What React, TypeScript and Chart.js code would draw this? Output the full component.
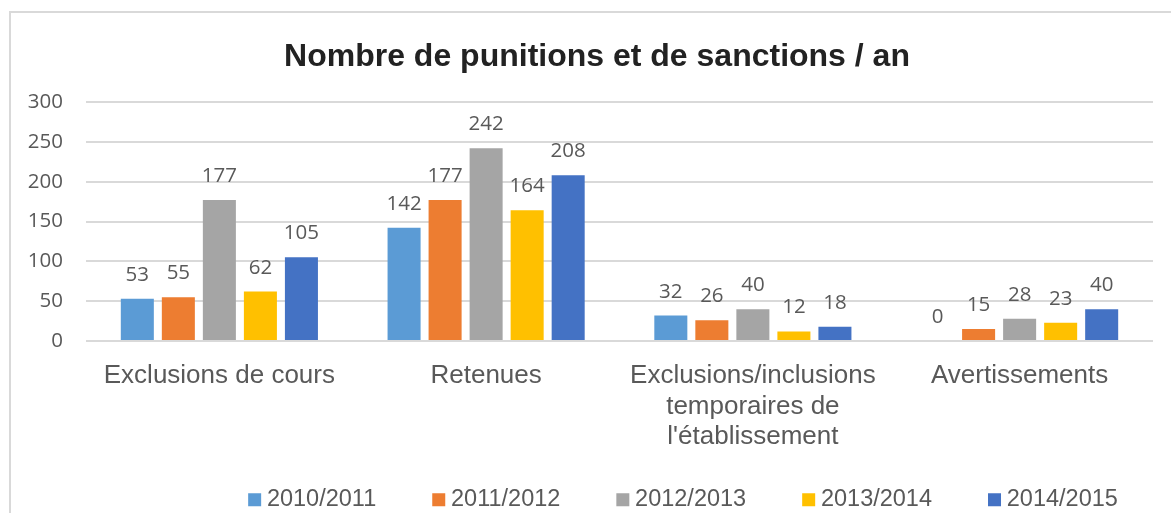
import React, { useEffect, useRef } from "react";
import { Chart, registerables } from "chart.js";

Chart.register(...registerables);

const chartTitle = "Nombre de punitions et de sanctions / an";
const categories: (string | string[])[] = [
  "Exclusions de cours",
  "Retenues",
  ["Exclusions/inclusions", "temporaires de", "l'établissement"],
  "Avertissements",
];
const seriesLabels = ["2010/2011", "2011/2012", "2012/2013", "2013/2014", "2014/2015"];
const values2010_2011 = [53, 142, 32, 0];
const values2011_2012 = [55, 177, 26, 15];
const values2012_2013 = [177, 242, 40, 28];
const values2013_2014 = [62, 164, 12, 23];
const values2014_2015 = [105, 208, 18, 40];
const seriesValues = [values2010_2011, values2011_2012, values2012_2013, values2013_2014, values2014_2015];
const seriesColors = ["#5B9BD5", "#ED7D31", "#A5A5A5", "#FFC000", "#4472C4"];
const yMin = 0;
const yMax = 300;
const yStep = 50;

const ARIAL = "'Liberation Sans', Arial, sans-serif";
const NUMFONT = "'Open Sans', 'Noto Sans', sans-serif";
const TEXT_GRAY = "#595959";

const dataLabelsPlugin = {
  id: "dataLabels",
  afterDatasetsDraw(chart: any) {
    const ctx = chart.ctx;
    ctx.save();
    ctx.font = `20.5px ${NUMFONT}`;
    ctx.fillStyle = TEXT_GRAY;
    ctx.textAlign = "center";
    ctx.textBaseline = "alphabetic";
    chart.data.datasets.forEach((ds: any, i: number) => {
      const meta = chart.getDatasetMeta(i);
      meta.data.forEach((el: any, j: number) => {
        ctx.fillText(String(ds.data[j]), el.x, el.y - 18);
      });
    });
    ctx.restore();
  },
};

const boxShiftPlugin = {
  id: "boxShift",
  afterLayout(chart: any) {
    const t = chart.titleBlock;
    if (t) {
      t.left += 20.5;
      t.right += 20.5;
    }
    const l = chart.legend;
    if (l) {
      l.left += 109.5;
      l.right += 109.5;
      l.top += 8.5;
      l.bottom += 8.5;
    }
    const x = chart.scales.x;
    if (x) {
      // let the multi-line category labels extend below the axis box (no clipping)
      x.bottom += 60;
    }
  },
};

export default function App() {
  const ref = useRef<HTMLCanvasElement>(null);

  useEffect(() => {
    if (!ref.current) return;
    const chart = new Chart(ref.current, {
      type: "bar",
      data: {
        labels: categories as any,
        datasets: seriesLabels.map((label, i) => ({
          label,
          data: seriesValues[i],
          backgroundColor: seriesColors[i],
          borderWidth: 0,
          categoryPercentage: 0.769,
          barPercentage: 0.805,
        })),
      },
      options: {
        responsive: false,
        animation: false,
        devicePixelRatio: 1,
        layout: { padding: { left: 0, right: 18, top: 0, bottom: 0 } },
        plugins: {
          title: {
            display: true,
            text: chartTitle,
            color: "#222222",
            font: { family: ARIAL, size: 32, weight: "bold", lineHeight: 1.2 },
            padding: { top: 37.8, bottom: 25.8 },
          },
          legend: {
            position: "bottom",
            align: "center",
            labels: {
              usePointStyle: true,
              pointStyle: "rect",
              boxWidth: 1,
              boxHeight: 13,
              padding: 62,
              color: TEXT_GRAY,
              font: { family: ARIAL, size: 23.5 },
            },
          },
          tooltip: { enabled: false },
        },
        scales: {
          x: {
            grid: { display: false, drawTicks: false },
            border: { display: false },
            ticks: {
              color: TEXT_GRAY,
              font: { family: ARIAL, size: 26, lineHeight: 1.17 },
              padding: 20,
              maxRotation: 0,
              autoSkip: false,
            },
            afterFit: (s: any) => {
              s.height = 76.5;
            },
          },
          y: {
            min: yMin,
            max: yMax,
            ticks: {
              stepSize: yStep,
              color: TEXT_GRAY,
              font: { family: NUMFONT, size: 20.5 },
              padding: 23,
            },
            grid: { color: "#d9d9d9", lineWidth: 2, drawTicks: false },
            border: { display: false },
            afterFit: (s: any) => {
              s.width = 86;
            },
          },
        },
      } as any,
      plugins: [dataLabelsPlugin, boxShiftPlugin],
    });
    return () => chart.destroy();
  }, []);

  return (
    <div
      style={{
        position: "fixed",
        left: 0,
        top: 0,
        width: 1171,
        height: 513,
        background: "#ffffff",
        overflow: "hidden",
      }}
    >
      <div
        style={{
          position: "absolute",
          left: 9,
          top: 11,
          width: 1300,
          height: 700,
          border: "2px solid #d9d9d9",
          boxSizing: "border-box",
        }}
      />
      <canvas
        ref={ref}
        width={1171}
        height={513}
        style={{ position: "absolute", left: 0, top: 0, width: 1171, height: 513 }}
      />
    </div>
  );
}
